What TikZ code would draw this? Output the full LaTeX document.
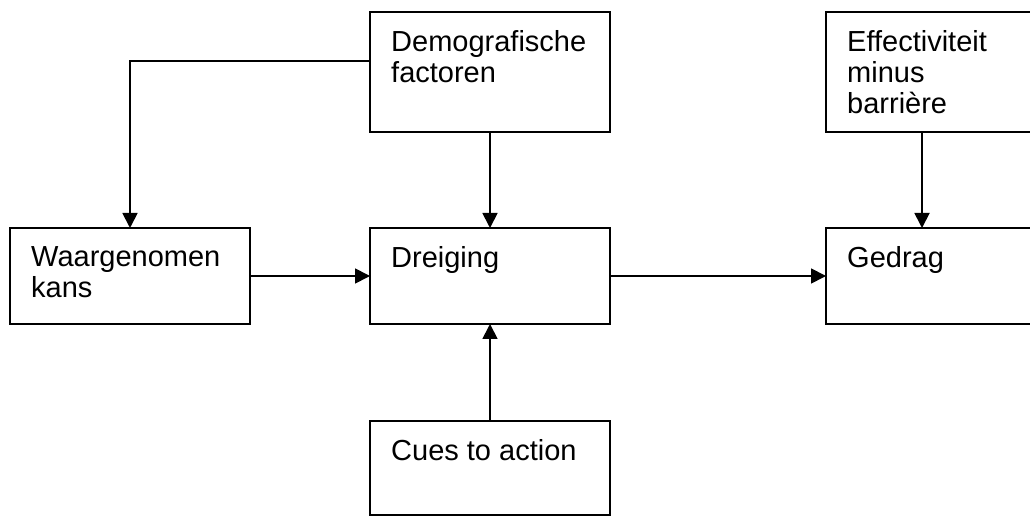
\documentclass[tikz,border=0pt]{standalone}
\usepackage{fontspec}
\setmainfont{Liberation Sans}
\usetikzlibrary{positioning, arrows.meta}

\begin{document}
\begin{tikzpicture}[
			x=1pt, y=-1pt,
			box/.style={rectangle, draw, line width=1.8pt, minimum width=240pt, inner sep=0pt, outer sep=0pt},
			lbl/.style={anchor=north west, align=left, inner sep=0pt, xshift=21pt, yshift=-18pt,
				font=\fontsize{29}{31}\selectfont},
			arrow/.style={-{Triangle[length=15pt, width=15pt]}, line width=1.8pt}
			]
			\useasboundingbox (0,0) rectangle (1030,518);
			\clip (0,0) rectangle (1030,518);
			
			% Top row
			\node[box, minimum height=120pt, anchor=north west,
				label={[lbl]north west:Demografische\\factoren}] (demo) at (370,12) {};
			
			% Middle row
			\node[box, minimum height=96pt, below=96pt of demo,
				label={[lbl]north west:Dreiging}] (dreiging) {};
			\node[box, minimum height=96pt, left=120pt of dreiging,
				label={[lbl]north west:Waargenomen\\kans}] (waar) {};
			\node[box, minimum height=96pt, right=216pt of dreiging,
				label={[lbl]north west:Gedrag}] (gedrag) {};
			\node[box, minimum height=120pt, above=96pt of gedrag,
				label={[lbl]north west:Effectiviteit\\minus\\barri\`ere}] (effect) {};
			
			% Bottom row
			\node[box, minimum height=94pt, below=97pt of dreiging,
				label={[lbl]north west:Cues to action}] (cues) {};
			
			% Connections
			\draw[arrow] ([yshift=11pt]demo.west) -| (waar.north);
			\draw[arrow] (demo.south) -- (dreiging.north);
			\draw[arrow] ([xshift=-24pt]effect.south) -- ([xshift=-24pt]gedrag.north);
			\draw[arrow] (waar.east) -- (dreiging.west);
			\draw[arrow] (dreiging.east) -- (gedrag.west);
			\draw[arrow] (cues.north) -- (dreiging.south);
			
		\end{tikzpicture}
\end{document}
